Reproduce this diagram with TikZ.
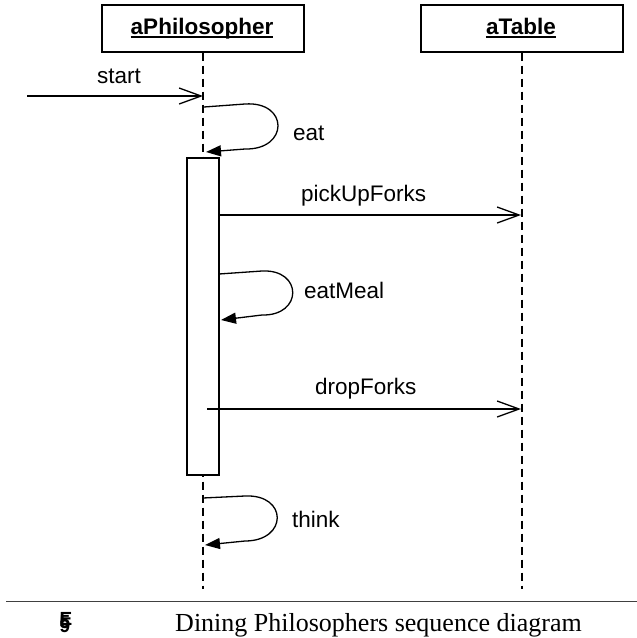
\documentclass[tikz,border=0pt]{standalone}
\usepackage{fontspec}
\setmainfont{Liberation Serif}
\newfontfamily\uisans{Liberation Sans}
\usetikzlibrary{arrows.meta}
\begin{document}
\begin{tikzpicture}[x=1pt,y=-1pt,
  objbox/.style={draw, line width=1.3pt, minimum width=202pt, minimum height=47pt, inner sep=0pt},
  objtitle/.style={font=\uisans\bfseries\fontsize{22.5}{27}\selectfont, inner sep=0pt, anchor=base},
  lbl/.style={font=\uisans\fontsize{22.5}{27}\selectfont, inner sep=0pt, anchor=base west},
  lifeline/.style={line width=1.3pt, dash pattern=on 8pt off 5pt},
  msg/.style={line width=1.3pt, -{Straight Barb[length=22pt,width=16pt,line width=1.3pt]}},
  selfmsg/.style={line width=1.3pt, -{Triangle[length=15pt,width=11pt]}},
  actbox/.style={draw, fill=white, line width=1.3pt, minimum width=32pt, minimum height=317pt, inner sep=0pt},
  figmark/.style={font=\uisans\bfseries\fontsize{19}{22}\selectfont, inner sep=0pt, anchor=base},
]
\useasboundingbox (0,0) rectangle (637,638);

% object headers
\node[objbox] (philBox) at (203,28.5) {};
\node[objbox] (tabBox) at (522,28.5) {};
\node[objtitle] (philT) at (202,34) {aPhilosopher};
\node[objtitle] (tabT) at (521,34) {aTable};
\draw[line width=1.2pt] ([yshift=-3pt]philT.base west) -- ([yshift=-3pt]philT.base east);
\draw[line width=1.2pt] ([yshift=-3pt]tabT.base west) -- ([yshift=-3pt]tabT.base east);

% lifelines
\coordinate (philEnd) at (203,589);
\coordinate (tabEnd) at (522,589);
\draw[lifeline] (philBox.south) -- (philEnd);
\draw[lifeline] (tabBox.south) -- (tabEnd);

% activation bar
\node[actbox] (act) at (203,316.5) {};

% start
\coordinate (entry) at (27,96);
\coordinate (startTip) at (203,96);
\draw[msg] (entry) -- (startTip);
\node[lbl] (startL) at (97,83) {start};

% eat (self call)
\coordinate (eatS) at (204,107);
\coordinate (eatE) at (206,152);
\draw[selfmsg] (eatS) -- (245,104) .. controls (289,101) and (289,150) .. (245,149) -- (eatE);
\node[lbl] (eatL) at (293,140) {eat};

% pickUpForks
\coordinate (pufS) at (219,215);
\coordinate (pufE) at (521,215);
\draw[msg] (pufS) -- (pufE);
\node[lbl] (pufL) at (301,201) {pickUpForks};

% eatMeal (self call)
\coordinate (emS) at (219,274);
\coordinate (emE) at (221,320);
\draw[selfmsg] (emS) -- (262,271) .. controls (303,269) and (303,316) .. (262,315) -- (emE);
\node[lbl] (emL) at (304,298) {eatMeal};

% dropForks
\coordinate (dfS) at (207,409);
\coordinate (dfE) at (521,409);
\draw[msg] (dfS) -- (dfE);
\node[lbl] (dfL) at (315,394) {dropForks};

% think (self call)
\coordinate (thS) at (203,498);
\coordinate (thE) at (205,545);
\draw[selfmsg] (thS) -- (245,496) .. controls (288,494) and (288,541) .. (245,541) -- (thE);
\node[lbl] (thL) at (292,527) {think};

% caption with its overprinted figure number
\coordinate (ruleL) at (6,601);
\coordinate (ruleR) at (637,601);
\draw[line width=1pt, black!75] (ruleL) -- (ruleR);
\node[figmark] (figNum) at (65,632) {\makebox[0pt][l]{\raisebox{7pt}{E}}\makebox[0pt][l]{\raisebox{4pt}{5}}9};
\node[font=\fontsize{26}{30}\selectfont, anchor=base, inner sep=0pt] (cap) at (378.5,631) {Dining Philosophers sequence diagram};
\end{tikzpicture}
\end{document}
